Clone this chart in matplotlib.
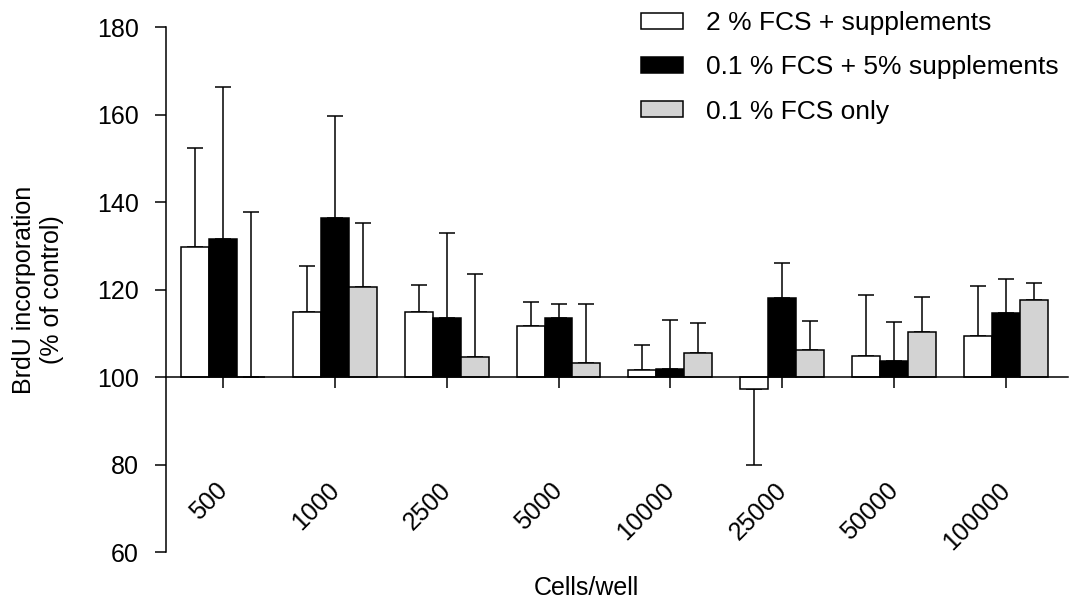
import numpy as np
import matplotlib
matplotlib.use("Agg")
import matplotlib.pyplot as plt
from matplotlib.transforms import ScaledTranslation

# Data (baseline = 100 % of control)
cells = ["500", "1000", "2500", "5000", "10000", "25000", "50000", "100000"]

fcs2_supp = [129.8, 114.9, 114.8, 111.7, 101.5, 97.3, 104.9, 109.4]
fcs2_supp_err = [22.6, 10.5, 6.2, 5.4, 5.8, 17.3, 13.8, 11.4]

fcs01_supp5 = [131.5, 136.3, 113.6, 113.4, 101.8, 118.0, 103.7, 114.6]
fcs01_supp5_err = [34.7, 23.4, 19.4, 3.4, 11.2, 8.1, 8.8, 7.8]

fcs01_only = [100.1, 120.6, 104.6, 103.1, 105.5, 106.2, 110.3, 117.5]
fcs01_only_err = [37.6, 14.5, 18.9, 13.5, 6.8, 6.6, 8.1, 3.9]

labels = ["2 % FCS + supplements", "0.1 % FCS + 5% supplements", "0.1 % FCS only"]
colors = ["white", "black", "#d3d3d3"]

baseline = 100

plt.rcParams["font.family"] = ["Liberation Sans", "DejaVu Sans"]
plt.rcParams["font.size"] = 18

fig = plt.figure(figsize=(10.74, 6.01), dpi=100)
ax = fig.add_axes([0.1546, 0.0815, 0.8398, 0.8735])

x = np.arange(len(cells))
width = 0.25
series = [
    (fcs2_supp, fcs2_supp_err),
    (fcs01_supp5, fcs01_supp5_err),
    (fcs01_only, fcs01_only_err),
]

for k, (vals, errs) in enumerate(series):
    vals = np.array(vals)
    errs = np.array(errs)
    pos = x + (k - 1) * width
    # one-sided error bars pointing away from the baseline
    lower = np.where(vals < baseline, errs, 0)
    upper = np.where(vals >= baseline, errs, 0)
    ax.errorbar(pos, vals, yerr=[lower, upper], fmt="none", ecolor="black",
                elinewidth=1.1, capsize=5.6, capthick=1.1, zorder=1)
    ax.bar(pos, vals - baseline, width, bottom=baseline, color=colors[k],
           edgecolor="black", linewidth=1.1, label=labels[k], zorder=2)

ax.set_xlim(-0.509, 7.555)
ax.set_ylim(60, 180)
ax.set_yticks(range(60, 181, 20))

ax.spines["top"].set_visible(False)
ax.spines["right"].set_visible(False)
ax.spines["bottom"].set_position(("data", baseline))
ax.spines["bottom"].set_zorder(3)
for s in ("left", "bottom"):
    ax.spines[s].set_linewidth(1.1)

ax.tick_params(axis="y", direction="out", length=8, width=1.1, pad=11.5)
ax.tick_params(axis="x", direction="out", length=8, width=1.1, pad=65)
ax.set_xticks(x)
ax.set_xticklabels(cells, rotation=45, ha="right")
for lbl in ax.get_xticklabels():
    lbl.set_transform(lbl.get_transform()
                      + ScaledTranslation(0.09, 0, fig.dpi_scale_trans))

ax.set_ylabel("BrdU incorporation\n(% of control)", labelpad=24)
ax.set_xlabel("Cells/well")
ax.xaxis.set_label_coords(0.466, -0.046)

ax.legend(loc="upper left", bbox_to_anchor=(641 / 1074, 0.981),
          frameon=False, borderpad=0, borderaxespad=0, fontsize=19,
          handlelength=1.59, handleheight=0.57, handletextpad=0.87,
          labelspacing=0.76, bbox_transform=fig.transFigure)

fig.savefig("out.png", dpi=100)
